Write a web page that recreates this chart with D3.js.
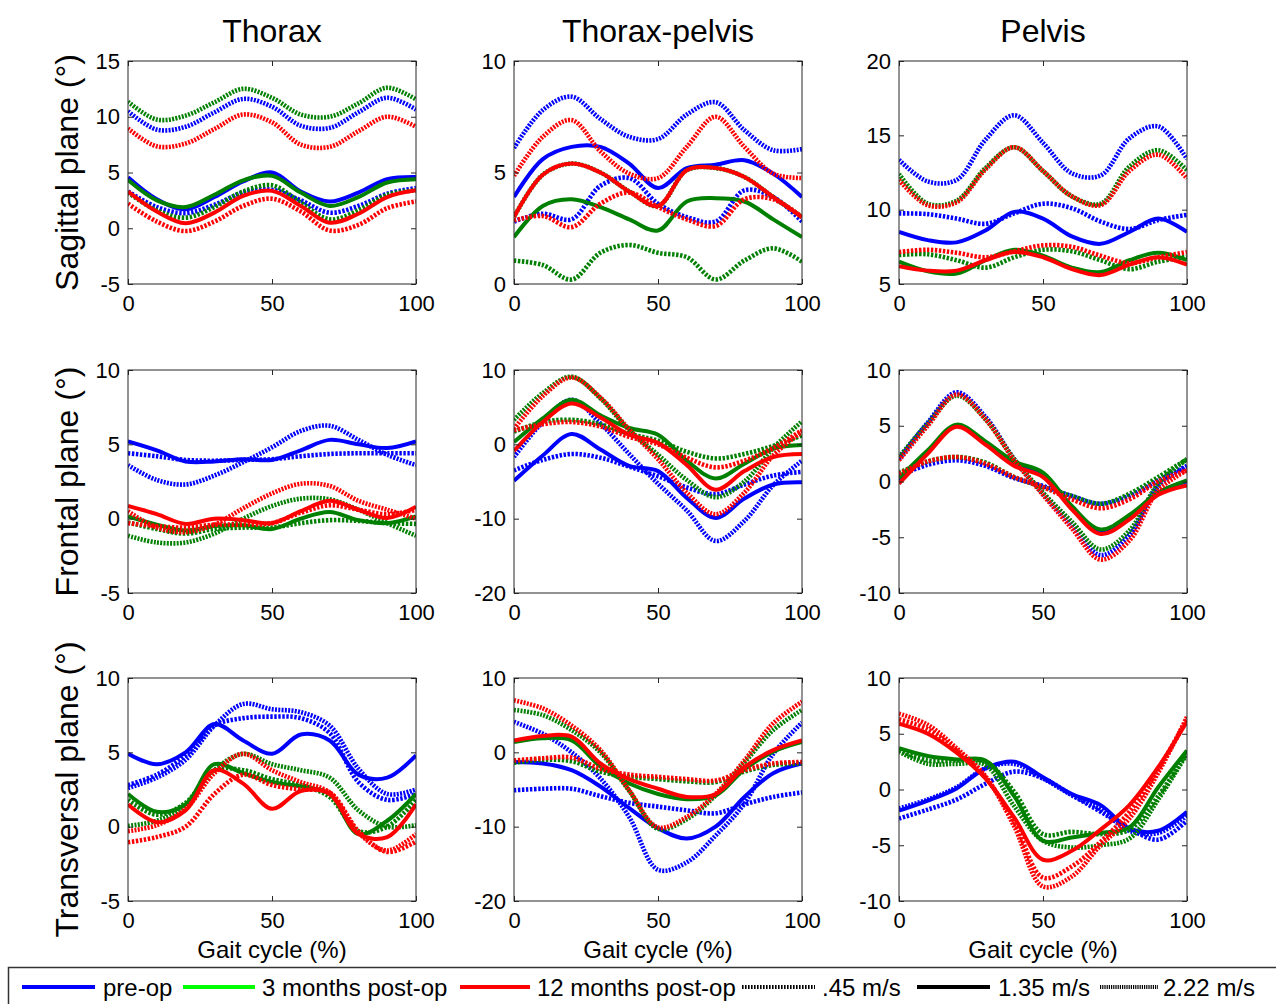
<!DOCTYPE html>
<html>
<head>
<meta charset="utf-8">
<script src="https://cdn.jsdelivr.net/npm/d3@7"></script>
<style>
  body { margin: 0; background: #fff; }
  svg { display: block; font-family: "Liberation Sans", Arial, sans-serif; }
</style>
</head>
<body>
<svg width="1276" height="1004"></svg>
<script>
/* ===============================
   Data (degrees, sampled every 10% of gait cycle)
   =============================== */
let gaitPct = [0, 10, 20, 30, 40, 50, 60, 70, 80, 90, 100];
let xTicks = [0, 50, 100];

let colTitles = ["Thorax", "Thorax-pelvis", "Pelvis"];
let rowTitles = ["Sagittal plane (\u00b0)", "Frontal plane (\u00b0)", "Transversal plane (\u00b0)"];

let groups = ["pre-op", "3 months post-op", "12 months post-op"];
let speeds = [".45 m/s", "1.35 m/s", "2.22 m/s"];

let yTickSets = [
  [[-5, 0, 5, 10, 15], [0, 5, 10], [5, 10, 15, 20]],
  [[-5, 0, 5, 10], [-20, -10, 0, 10], [-10, -5, 0, 5, 10]],
  [[-5, 0, 5, 10], [-20, -10, 0, 10], [-10, -5, 0, 5, 10]]
];

// each group: [.45 m/s, 1.35 m/s, 2.22 m/s]
let thoraxSag = {
  pre: [[3.3, 1.9, 1.35, 2.1, 3.2, 3.45, 2.5, 1.4, 2.0, 3.1, 3.6],
        [4.57, 2.6, 1.7, 2.8, 4.2, 5.0, 3.3, 2.4, 3.2, 4.4, 4.6],
        [10.5, 8.85, 9.1, 10.4, 11.6, 10.9, 9.2, 9.0, 10.4, 11.7, 10.65]],
  m3:  [[3.2, 1.6, 0.95, 1.9, 3.3, 3.85, 2.3, 0.8, 1.6, 3.0, 3.4],
        [4.33, 2.5, 1.9, 3.0, 4.3, 4.7, 3.2, 2.0, 2.8, 4.1, 4.4],
        [11.35, 9.75, 10.1, 11.3, 12.5, 11.7, 10.2, 10.0, 11.2, 12.6, 11.55]],
  m12: [[2.2, 0.6, -0.25, 0.6, 2.0, 2.65, 1.5, -0.2, 0.3, 1.8, 2.4],
        [3.3, 1.5, 0.45, 1.4, 2.9, 3.35, 2.0, 0.5, 1.3, 2.8, 3.4],
        [8.95, 7.35, 7.6, 8.9, 10.2, 9.5, 7.5, 7.3, 8.7, 10.0, 9.1]]
};

let tpSag = {
  pre: [[2.8, 3.15, 2.9, 4.4, 4.75, 3.6, 3.0, 2.8, 4.2, 3.9, 2.8],
        [3.9, 5.6, 6.15, 6.15, 5.4, 4.3, 5.2, 5.35, 5.55, 4.95, 3.9],
        [6.1, 7.8, 8.4, 7.4, 6.6, 6.5, 7.6, 8.15, 6.9, 6.0, 6.05]],
  m3:  [[1.05, 0.85, 0.2, 1.4, 1.75, 1.4, 1.2, 0.2, 1.05, 1.6, 1.0],
        [2.1, 3.5, 3.8, 3.45, 2.9, 2.4, 3.7, 3.85, 3.7, 2.9, 2.1],
        [3.0, 4.9, 5.4, 5.0, 4.15, 3.5, 5.1, 5.2, 4.8, 3.9, 3.0]],
  m12: [[2.85, 3.05, 2.55, 3.6, 4.1, 3.45, 2.9, 2.6, 3.8, 3.8, 3.0],
        [3.0, 4.9, 5.4, 5.0, 4.15, 3.5, 5.1, 5.2, 4.8, 3.9, 3.0],
        [4.85, 6.6, 7.35, 5.95, 4.95, 4.75, 6.15, 7.5, 6.15, 4.95, 4.75]]
};

let pelvisSag = {
  pre: [[9.75, 9.7, 9.4, 9.05, 9.75, 10.4, 10.1, 9.2, 8.7, 9.3, 9.65],
        [8.5, 7.95, 7.8, 8.6, 9.85, 9.4, 8.2, 7.7, 8.5, 9.4, 8.5],
        [13.35, 11.9, 12.0, 14.7, 16.35, 14.5, 12.45, 12.3, 14.8, 15.6, 13.4]],
  m3:  [[6.95, 7.0, 6.6, 6.1, 6.8, 7.3, 7.2, 6.6, 6.0, 6.5, 6.85],
        [6.5, 5.85, 5.7, 6.6, 7.3, 6.9, 6.1, 5.8, 6.6, 7.1, 6.6],
        [12.4, 10.4, 10.6, 12.8, 14.2, 12.6, 10.9, 10.4, 12.9, 14.0, 12.65]],
  m12: [[7.15, 7.3, 7.1, 6.8, 7.2, 7.6, 7.5, 6.9, 6.4, 6.8, 7.15],
        [6.2, 5.9, 5.9, 6.6, 7.15, 6.8, 6.0, 5.6, 6.3, 6.8, 6.3],
        [12.0, 10.3, 10.5, 12.7, 14.2, 12.6, 10.9, 10.3, 12.6, 13.7, 12.1]]
};

let thoraxFront = {
  pre: [[4.4, 4.2, 3.95, 3.9, 3.95, 4.0, 4.2, 4.35, 4.4, 4.4, 4.4],
        [5.2, 4.6, 3.85, 3.85, 4.0, 3.95, 4.6, 5.3, 5.0, 4.75, 5.2],
        [3.6, 2.6, 2.3, 2.9, 3.8, 4.8, 5.9, 6.25, 5.3, 4.3, 3.6]],
  m3:  [[-0.25, -0.7, -1.0, -0.7, -0.6, -0.6, -0.3, -0.1, -0.15, -0.3, -0.35],
        [0.15, -0.4, -0.8, -0.5, -0.45, -0.7, 0.0, 0.45, -0.1, -0.3, 0.15],
        [-1.15, -1.6, -1.6, -1.0, 0.0, 0.85, 1.35, 1.3, 0.6, -0.3, -1.15]],
  m12: [[-0.3, -0.5, -0.6, -0.4, -0.4, -0.3, 0.4, 0.9, 0.6, 0.3, 0.6],
        [0.85, 0.3, -0.35, 0.0, -0.1, -0.3, 0.5, 1.2, 0.6, 0.05, 0.8],
        [0.5, -0.6, -0.9, -0.4, 0.7, 1.7, 2.35, 2.2, 1.2, 0.6, 0.0]]
};

let tpFront = {
  pre: [[-3.5, -2.1, -1.3, -1.8, -3.0, -4.3, -5.8, -6.7, -5.4, -4.2, -3.7],
        [-4.9, -1.5, 1.4, -0.7, -2.9, -3.6, -7.2, -9.9, -7.3, -5.4, -5.1],
        [-1.7, 3.0, 6.0, 2.8, -1.3, -5.3, -8.9, -13.0, -10.3, -5.5, -2.2]],
  m3:  [[1.7, 3.0, 3.3, 2.7, 1.4, 0.5, -1.0, -1.9, -1.3, -0.2, 1.2],
        [0.3, 3.5, 6.0, 3.9, 2.2, 1.3, -2.2, -4.6, -2.6, -0.6, -0.1],
        [3.3, 6.9, 9.1, 6.2, 1.9, -1.4, -4.8, -7.1, -5.0, -0.5, 3.1]],
  m12: [[1.9, 2.7, 3.0, 2.4, 1.0, 0.0, -1.8, -3.1, -2.2, -0.5, 1.9],
        [-0.9, 3.0, 5.5, 3.6, 1.3, 0.2, -2.8, -6.1, -3.6, -1.7, -1.3],
        [2.1, 6.5, 9.0, 6.3, 2.0, -2.0, -6.5, -9.4, -6.5, -1.5, 1.7]]
};

let pelvisFront = {
  pre: [[0.5, 1.5, 1.9, 1.4, 0.3, -0.4, -1.3, -2.0, -1.3, 0.1, 1.4],
        [0.1, 2.7, 5.0, 3.5, 1.7, 0.6, -2.3, -4.5, -3.1, -1.0, 0.0],
        [2.0, 5.3, 8.0, 5.8, 2.0, -1.1, -3.9, -6.6, -4.8, -0.4, 1.3]],
  m3:  [[0.8, 1.8, 2.2, 1.7, 0.4, -0.5, -1.3, -2.0, -1.1, 0.4, 2.0],
        [0.3, 2.8, 5.1, 3.6, 1.8, 0.8, -2.2, -4.3, -3.0, -1.0, 0.1],
        [2.2, 5.2, 7.7, 5.6, 2.0, -1.0, -3.6, -6.1, -4.4, -0.2, 2.0]],
  m12: [[0.7, 1.8, 2.2, 1.6, 0.4, -0.5, -1.6, -2.4, -1.6, 0.0, 1.0],
        [-0.2, 2.5, 4.9, 3.3, 1.4, 0.4, -2.5, -4.7, -3.4, -1.2, -0.35],
        [1.9, 5.0, 7.8, 5.6, 1.9, -1.2, -4.2, -7.0, -5.3, -0.8, 1.0]]
};

let thoraxTrans = {
  pre: [[2.8, 3.5, 4.8, 6.8, 7.3, 7.4, 7.3, 6.3, 3.0, 1.8, 2.2],
        [4.9, 4.2, 5.0, 6.9, 5.8, 4.9, 6.2, 5.8, 3.5, 3.3, 4.8],
        [2.6, 3.3, 4.5, 6.8, 8.25, 7.9, 7.7, 6.8, 3.9, 2.2, 2.5]],
  m3:  [[1.8, 0.8, 1.6, 3.8, 3.8, 3.2, 2.8, 2.0, -0.3, 0.0, 1.8],
        [2.2, 1.0, 1.5, 4.2, 3.6, 3.0, 2.7, 2.2, -0.5, 0.4, 2.2],
        [0.05, 0.4, 1.4, 3.8, 4.9, 4.2, 3.8, 3.3, 1.1, 0.0, 0.1]],
  m12: [[-1.05, -0.7, 0.0, 2.2, 3.5, 2.8, 2.5, 2.3, -0.3, -1.7, -1.0],
        [1.5, 0.3, 1.1, 3.8, 2.9, 1.2, 2.4, 2.2, -0.5, -0.7, 1.5],
        [-0.3, 0.1, 1.2, 3.6, 4.9, 3.8, 3.0, 2.3, -0.4, -1.6, -0.5]]
};

let tpTrans = {
  pre: [[-5.1, -4.9, -4.9, -5.9, -6.8, -7.3, -7.8, -8.2, -7.0, -6.0, -5.4],
        [-1.3, -1.5, -2.4, -4.6, -7.5, -10.2, -11.6, -10.0, -6.0, -2.8, -1.5],
        [4.1, 2.5, 0.0, -3.5, -8.7, -15.8, -14.8, -11.2, -6.9, -0.2, 4.0]],
  m3:  [[-1.4, -1.0, -1.2, -2.6, -3.3, -3.6, -3.9, -4.0, -2.6, -1.7, -1.5],
        [1.4, 1.9, 1.6, -1.9, -4.2, -5.6, -6.3, -5.8, -2.3, 0.1, 1.4],
        [5.7, 5.0, 3.0, 0.0, -5.2, -10.3, -9.0, -5.8, -1.4, 3.0, 5.7]],
  m12: [[-1.1, -0.8, -0.7, -2.2, -3.0, -3.3, -3.6, -3.8, -2.4, -1.5, -1.3],
        [1.6, 2.2, 2.1, -1.5, -3.6, -4.9, -6.0, -5.6, -2.0, 0.3, 1.6],
        [7.0, 5.9, 3.6, 0.3, -5.1, -10.1, -8.7, -5.6, -1.1, 3.9, 6.8]]
};

let pelvisTrans = {
  pre: [[-2.6, -1.8, -0.9, 0.5, 1.6, 1.0, -0.5, -2.0, -3.5, -4.5, -2.8],
        [-1.9, -1.0, 0.1, 1.9, 2.5, 1.1, -0.4, -1.4, -3.5, -3.7, -2.0],
        [-1.7, -0.9, 0.2, 1.9, 2.3, 1.0, -0.5, -1.8, -3.7, -3.9, -2.3]],
  m3:  [[3.5, 2.6, 2.6, 2.5, -0.2, -4.0, -3.8, -4.0, -3.6, -0.6, 3.3],
        [3.7, 3.0, 2.7, 2.6, -0.6, -4.6, -4.3, -3.9, -3.4, 0.2, 3.5],
        [3.4, 2.3, 2.3, 2.2, -1.5, -4.6, -5.2, -5.0, -4.4, -0.9, 3.2]],
  m12: [[6.3, 5.4, 3.5, 1.1, -2.9, -7.9, -6.9, -4.7, -2.0, 1.8, 6.3],
        [5.9, 5.0, 3.3, 1.0, -2.5, -6.3, -5.5, -3.6, -1.4, 2.0, 6.1],
        [6.8, 5.8, 3.7, 1.2, -3.3, -8.7, -7.8, -5.0, -2.6, 1.5, 6.5]]
};

let panelData = [
  [thoraxSag, tpSag, pelvisSag],
  [thoraxFront, tpFront, pelvisFront],
  [thoraxTrans, tpTrans, pelvisTrans]
];

/* ===============================
   Layout and styles
   =============================== */
let colLeft = [128, 514, 899];
let rowTop = [61, 370, 678];
let plotW = 288;
let plotH = 223;

let groupKeys = ["pre", "m3", "m12"];
let groupColors = ["#0000ff", "#008000", "#ff0000"];
let legendColors = ["#0000ff", "#00ff00", "#ff0000"];
let speedDash = ["2.4,1.6", null, "2,1.3"];
let speedWidth = [4.6, 4, 4.6];
let tickFont = 22;

let svg = d3.select("svg");

/* ===============================
   Panels
   =============================== */
panelData.forEach((row, r) => {
  row.forEach((panel, c) => {
    let ticks = yTickSets[r][c];
    let x = d3.scaleLinear().domain([0, 100]).range([0, plotW]);
    let y = d3.scaleLinear().domain([ticks[0], ticks[ticks.length - 1]]).range([plotH, 0]);

    let g = svg.append("g")
        .attr("transform", `translate(${colLeft[c]},${rowTop[r]})`);

    let clipId = `clip-${r}-${c}`;
    g.append("clipPath").attr("id", clipId)
      .append("rect")
        .attr("x", 0).attr("y", -2)
        .attr("width", plotW).attr("height", plotH + 4);

    g.append("rect")
        .attr("width", plotW)
        .attr("height", plotH)
        .attr("fill", "#fff");

    // lines
    let line = d3.line()
        .x((d, i) => x(gaitPct[i]))
        .y(d => y(d))
        .curve(d3.curveCatmullRom.alpha(0.5));

    let lines = g.append("g").attr("clip-path", `url(#${clipId})`);
    groupKeys.forEach((k, gi) => {
      panel[k].forEach((vals, si) => {
        lines.append("path")
            .attr("d", line(vals))
            .attr("fill", "none")
            .attr("stroke", groupColors[gi])
            .attr("stroke-width", speedWidth[si])
            .attr("stroke-dasharray", speedDash[si]);
      });
    });

    // axes, ticks inside on all four sides
    let styleAxis = sel => {
      sel.select(".domain").remove();
      sel.selectAll(".tick line").attr("stroke", "#262626");
      sel.selectAll(".tick text")
          .attr("fill", "#000")
          .attr("font-size", tickFont)
          .attr("font-family", "'Liberation Sans', Arial, sans-serif");
    };
    let plain = d => String(d);

    g.append("g")
        .attr("transform", `translate(0,${plotH})`)
        .call(d3.axisBottom(x).tickValues(xTicks).tickFormat(plain).tickSizeInner(-5).tickSizeOuter(0).tickPadding(11))
        .call(styleAxis);

    g.append("g")
        .call(d3.axisTop(x).tickValues(xTicks).tickSizeInner(-5).tickSizeOuter(0).tickFormat(""))
        .call(styleAxis);

    g.append("g")
        .call(d3.axisLeft(y).tickValues(ticks).tickFormat(plain).tickSizeInner(-5).tickSizeOuter(0).tickPadding(8))
        .call(styleAxis);

    g.append("g")
        .attr("transform", `translate(${plotW},0)`)
        .call(d3.axisRight(y).tickValues(ticks).tickSizeInner(-5).tickSizeOuter(0).tickFormat(""))
        .call(styleAxis);

    g.append("rect")
        .attr("width", plotW)
        .attr("height", plotH)
        .attr("fill", "none")
        .attr("stroke", "#262626")
        .attr("stroke-width", 1);

    if (r === 0) {
      g.append("text")
          .attr("x", plotW / 2)
          .attr("y", -19)
          .attr("text-anchor", "middle")
          .attr("font-size", 32)
          .text(colTitles[c]);
    }
    if (r === 2) {
      g.append("text")
          .attr("x", plotW / 2)
          .attr("y", plotH + 57)
          .attr("text-anchor", "middle")
          .attr("font-size", 24)
          .text("Gait cycle (%)");
    }
    if (c === 0) {
      g.append("text")
          .attr("transform", `translate(-50,${plotH / 2}) rotate(-90)`)
          .attr("text-anchor", "middle")
          .attr("font-size", 32)
          .text(rowTitles[r]);
    }
  });
});

/* ===============================
   Legend
   =============================== */
let legend = svg.append("g");

legend.append("rect")
    .attr("x", 8.5)
    .attr("y", 967.5)
    .attr("width", 1300)
    .attr("height", 60)
    .attr("fill", "#fff")
    .attr("stroke", "#333")
    .attr("stroke-width", 1.5);

let legendItems = [
  { label: groups[0], color: legendColors[0], dash: null, x1: 22, x2: 95, tx: 103 },
  { label: groups[1], color: legendColors[1], dash: null, x1: 183, x2: 255, tx: 262 },
  { label: groups[2], color: legendColors[2], dash: null, x1: 460, x2: 530, tx: 537 },
  { label: speeds[0], color: "#000", dash: "1.6,1.4", x1: 742, x2: 815, tx: 822 },
  { label: speeds[1], color: "#000", dash: null, x1: 917, x2: 990, tx: 998 },
  { label: speeds[2], color: "#000", dash: "1.2,1", x1: 1100, x2: 1158, tx: 1163 }
];

legendItems.forEach(d => {
  legend.append("line")
      .attr("x1", d.x1).attr("x2", d.x2)
      .attr("y1", 987).attr("y2", 987)
      .attr("stroke", d.color)
      .attr("stroke-width", 4)
      .attr("stroke-dasharray", d.dash);
  legend.append("text")
      .attr("x", d.tx)
      .attr("y", 996)
      .attr("font-size", 24)
      .text(d.label);
});
</script>
</body>
</html>
